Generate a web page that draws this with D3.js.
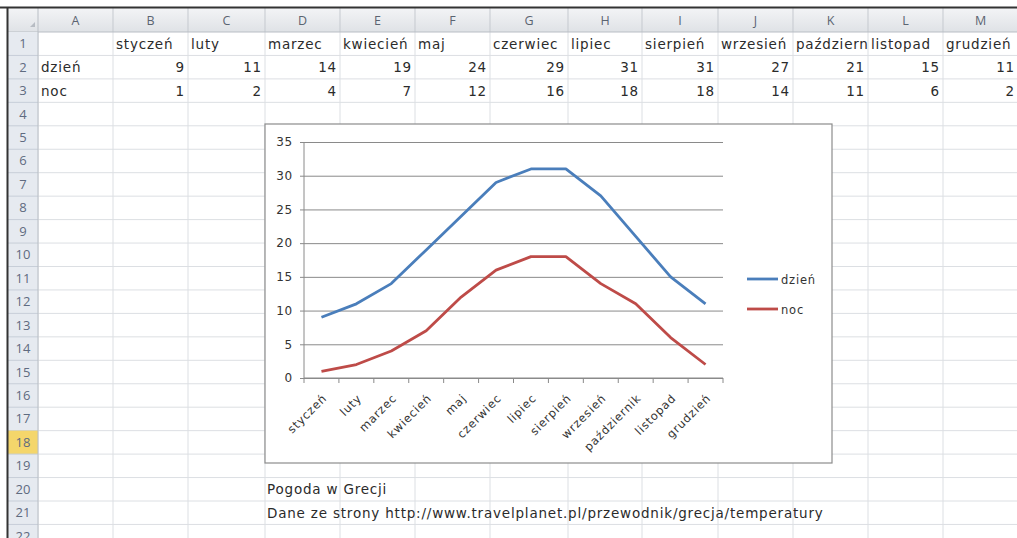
<!DOCTYPE html>
<html>
<head>
<meta charset="utf-8">
<script src="https://cdn.jsdelivr.net/npm/d3@7"></script>
<style>
  body { margin: 0; background: #fff; }
  svg { display: block; font-family: "Open Sans", "Liberation Sans", sans-serif; }
  .cell, .chart-text { font-family: "DejaVu Sans", sans-serif; letter-spacing: 0.8px; }
</style>
</head>
<body>
<svg id="sheet" width="1017" height="538"></svg>
<script>
// sheet data
const months = ['styczeń', 'luty', 'marzec', 'kwiecień', 'maj', 'czerwiec', 'lipiec',
  'sierpień', 'wrzesień', 'październik', 'listopad', 'grudzień'];
const day = [9, 11, 14, 19, 24, 29, 31, 31, 27, 21, 15, 11];
const night = [1, 2, 4, 7, 12, 16, 18, 18, 14, 11, 6, 2];
const seriesNames = ['dzień', 'noc'];
const yTicks = [0, 5, 10, 15, 20, 25, 30, 35];
const colLetters = ['A', 'B', 'C', 'D', 'E', 'F', 'G', 'H', 'I', 'J', 'K', 'L', 'M'];
const colEdges = [38, 113, 188, 265, 340, 415, 490, 568, 642, 718, 793, 868, 943, 1018];
const rowCount = 22;
const note1 = 'Pogoda w Grecji';
const note2 = 'Dane ze strony http://www.travelplanet.pl/przewodnik/grecja/temperatury';

const svg = d3.select('#sheet');
const headTop = 8, headBottom = 32, rowH = 23.45;
const rowTop = (r) => headBottom + (r - 1) * rowH;
const rowMid = (r) => rowTop(r) + rowH / 2;

const defs = svg.append('defs');
const hg = defs.append('linearGradient').attr('id', 'hg').attr('x1', 0).attr('x2', 0).attr('y1', 0).attr('y2', 1);
hg.append('stop').attr('offset', 0).attr('stop-color', '#f3f4f6');
hg.append('stop').attr('offset', 1).attr('stop-color', '#dfe2e6');

// grid lines
const grid = svg.append('g');
d3.range(1, rowCount + 1).forEach((r) => {
  grid.append('line').attr('x1', 38).attr('x2', 1017)
    .attr('y1', rowTop(r) + rowH).attr('y2', rowTop(r) + rowH)
    .attr('stroke', '#dcdfe3');
});
colEdges.forEach((x) => {
  grid.append('line').attr('x1', x).attr('x2', x).attr('y1', headBottom).attr('y2', 538)
    .attr('stroke', '#dcdfe3');
});

// column headers
svg.append('rect').attr('x', 8).attr('y', headTop).attr('width', 1009).attr('height', headBottom - headTop)
  .attr('fill', 'url(#hg)');
colLetters.forEach((c, i) => {
  svg.append('line').attr('x1', colEdges[i + 1]).attr('x2', colEdges[i + 1])
    .attr('y1', headTop).attr('y2', headBottom).attr('stroke', '#c5c9cf');
  svg.append('text').attr('x', (colEdges[i] + colEdges[i + 1]) / 2).attr('y', 25)
    .attr('text-anchor', 'middle').attr('font-size', 12.5).attr('fill', '#5b6471').text(c);
});
svg.append('line').attr('x1', 8).attr('x2', 1017).attr('y1', headBottom).attr('y2', headBottom).attr('stroke', '#b9bec5');

// row headers
svg.append('rect').attr('x', 8).attr('y', headBottom).attr('width', 30).attr('height', 538 - headBottom)
  .attr('fill', '#e6eaf0');
d3.range(1, rowCount + 1).forEach((r) => {
  if (r === 18) {
    svg.append('rect').attr('x', 8).attr('y', rowTop(r)).attr('width', 30).attr('height', rowH)
      .attr('fill', '#f4d66b');
  }
  svg.append('line').attr('x1', 8).attr('x2', 38).attr('y1', rowTop(r) + rowH).attr('y2', rowTop(r) + rowH)
    .attr('stroke', '#c7ced8');
  svg.append('text').attr('x', 23).attr('y', rowMid(r) + 4.5).attr('text-anchor', 'middle')
    .attr('font-size', 13).attr('fill', '#5f6b80').text(r);
});
svg.append('line').attr('x1', 38).attr('x2', 38).attr('y1', headTop).attr('y2', 538).attr('stroke', '#b9bec5');
svg.append('path').attr('d', 'M30,27 L35,27 L35,22 Z').attr('fill', '#b7bcc3');
svg.append('line').attr('x1', 0).attr('x2', 1017).attr('y1', 7.5).attr('y2', 7.5).attr('stroke', '#333').attr('stroke-width', 2);
svg.append('line').attr('x1', 7.5).attr('x2', 7.5).attr('y1', 7).attr('y2', 538).attr('stroke', '#333').attr('stroke-width', 2);

// cell contents
const cells = svg.append('g').attr('class', 'cell').attr('font-size', 13.5).attr('fill', '#2b2b2b');
months.forEach((m, i) => {
  const x0 = colEdges[i + 1], x1 = colEdges[i + 2];
  const t = cells.append('text').attr('x', x0 + 3).attr('y', rowMid(1) + 5).text(m);
  // cut the header text where the next cell starts, as the sheet does
  let s = m;
  while (t.node().getComputedTextLength() > x1 - x0 - 2 && s.length > 1) {
    s = s.slice(0, -1);
    t.text(s);
  }
  cells.append('text').attr('x', x1 - 3).attr('y', rowMid(2) + 5).attr('text-anchor', 'end').text(day[i]);
  cells.append('text').attr('x', x1 - 3).attr('y', rowMid(3) + 5).attr('text-anchor', 'end').text(night[i]);
});
cells.append('text').attr('x', 41).attr('y', rowMid(2) + 5).text(seriesNames[0]);
cells.append('text').attr('x', 41).attr('y', rowMid(3) + 5).text(seriesNames[1]);
cells.append('text').attr('x', 267).attr('y', rowMid(20) + 5).text(note1);
cells.append('text').attr('x', 267).attr('y', rowMid(21) + 5).text(note2);

// chart
const chart = svg.append('g');
chart.append('rect').attr('x', 265).attr('y', 124).attr('width', 567).attr('height', 339)
  .attr('fill', '#fff').attr('stroke', '#8c8c8c').attr('stroke-width', 1.2);

const x = d3.scaleBand().domain(months).range([304, 723]).padding(0);
const y = d3.scaleLinear().domain([0, 35]).range([378, 142]);
const cx = (m) => x(m) + x.bandwidth() / 2;

chart.append('g').attr('transform', 'translate(304,0)')
  .call(d3.axisLeft(y).tickValues(yTicks).tickSize(-419).tickPadding(11))
  .call((g) => g.select('.domain').remove())
  .call((g) => g.selectAll('.tick line').attr('stroke', '#8a8a8a').attr('x1', -4))
  .call((g) => g.selectAll('.tick text').attr('class', 'chart-text').attr('font-size', 12).attr('fill', '#333'));
chart.append('line').attr('x1', 304).attr('x2', 304).attr('y1', y(35)).attr('y2', y(0)).attr('stroke', '#8a8a8a');

chart.append('line').attr('x1', 304).attr('x2', 723).attr('y1', y(0)).attr('y2', y(0)).attr('stroke', '#8a8a8a');
chart.selectAll('.xt').data(months.concat(['end'])).enter().append('line')
  .attr('x1', (d, i) => 304 + i * x.bandwidth()).attr('x2', (d, i) => 304 + i * x.bandwidth())
  .attr('y1', y(0)).attr('y2', y(0) + 5).attr('stroke', '#8a8a8a');
chart.selectAll('.xl').data(months).enter().append('text').attr('class', 'chart-text')
  .attr('transform', (d) => `translate(${cx(d) + 6},${y(0) + 21}) rotate(-45)`)
  .attr('text-anchor', 'end').attr('font-size', 11.5).attr('fill', '#333').text((d) => d);

const line = d3.line().x((d, i) => cx(months[i])).y((d) => y(d));
const colors = ['#4a7ebb', '#be4b48'];
[day, night].forEach((s, k) => {
  chart.append('path').datum(s).attr('d', line).attr('fill', 'none')
    .attr('stroke', colors[k]).attr('stroke-width', 2.8).attr('stroke-linejoin', 'round');
});

// legend
seriesNames.forEach((n, k) => {
  const ly = 279 + k * 30;
  chart.append('line').attr('x1', 747).attr('x2', 778).attr('y1', ly).attr('y2', ly)
    .attr('stroke', colors[k]).attr('stroke-width', 2.8);
  chart.append('text').attr('class', 'chart-text').attr('x', 781).attr('y', ly + 4.5)
    .attr('font-size', 11.5).attr('fill', '#333').text(n);
});
</script>
</body>
</html>
